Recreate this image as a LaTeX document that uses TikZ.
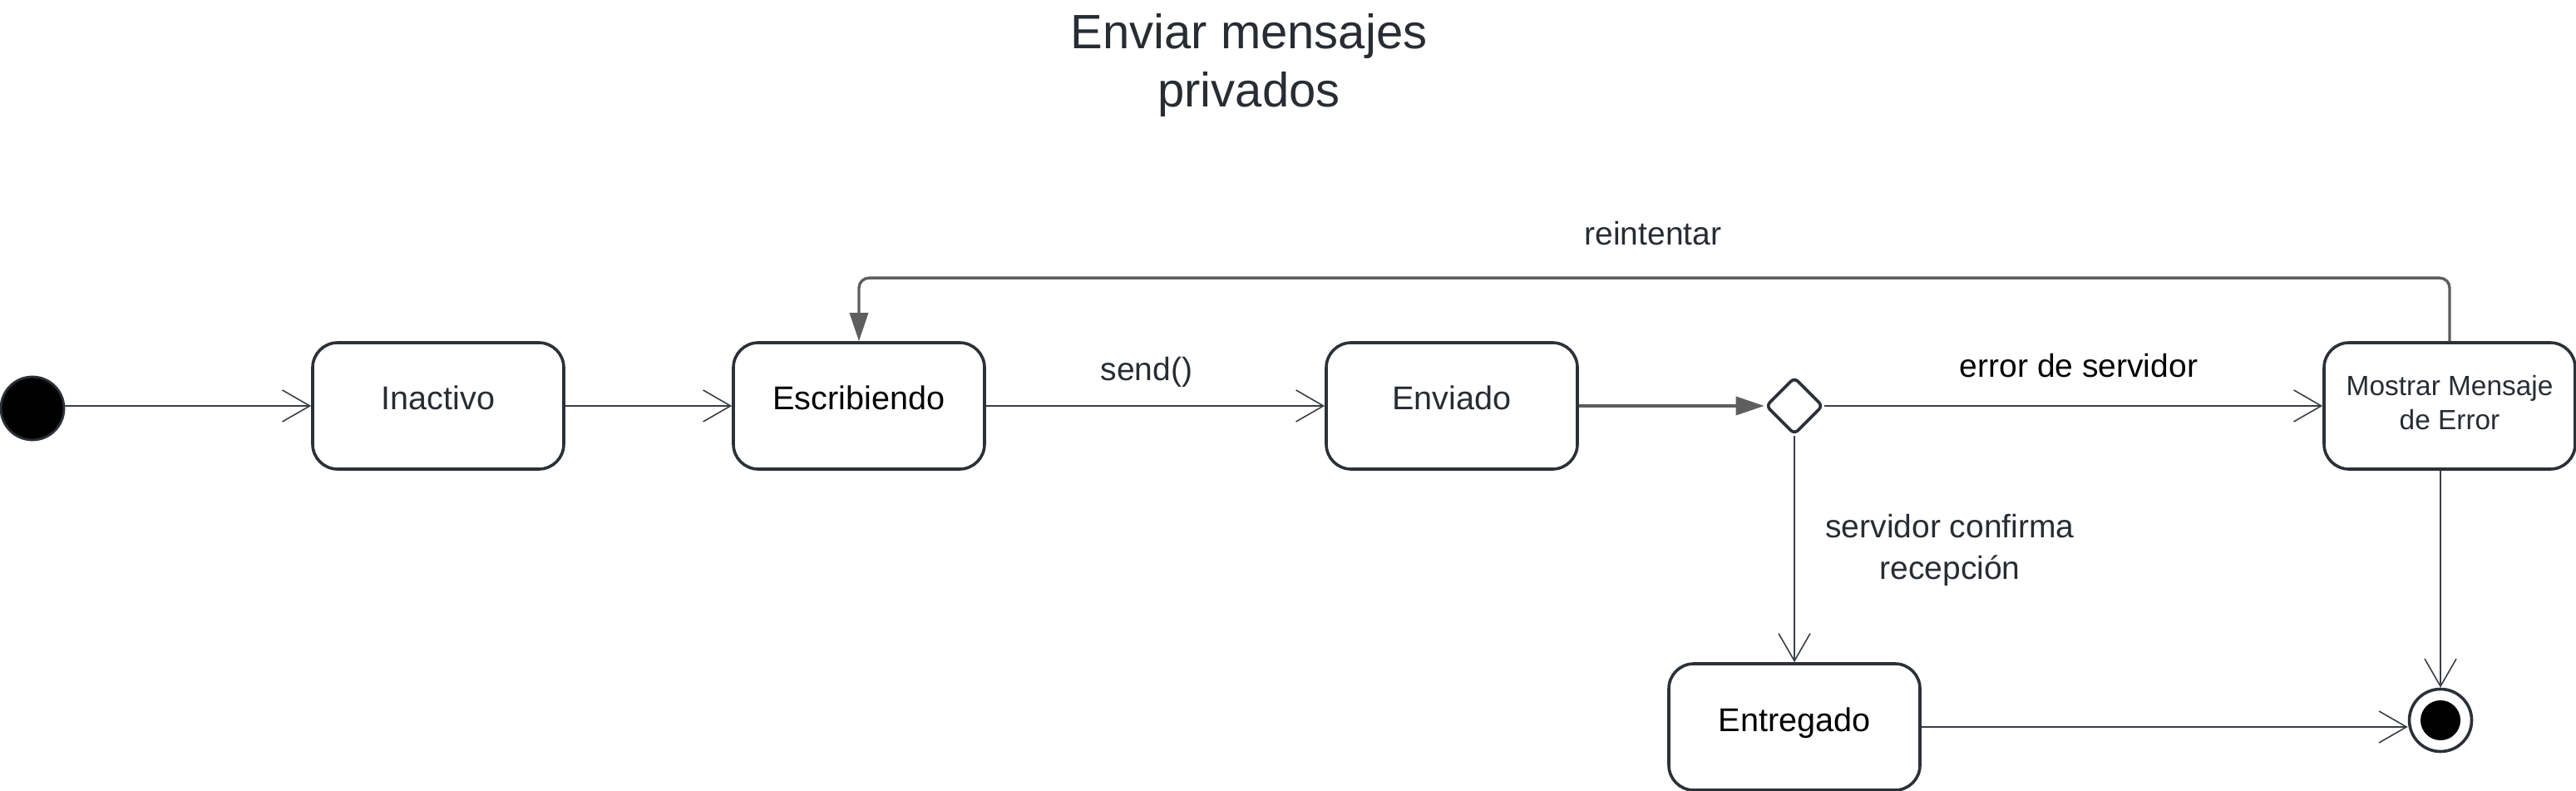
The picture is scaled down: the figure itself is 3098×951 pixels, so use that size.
\documentclass[tikz,border=0pt]{standalone}
\usepackage{fontspec}
\setmainfont{Liberation Sans}
\usetikzlibrary{arrows.meta,shapes.geometric,calc}
\definecolor{boxline}{HTML}{2C3037}
\definecolor{edgeline}{HTML}{3A3E45}
\definecolor{greyline}{HTML}{5E5E5E}
\definecolor{txt}{HTML}{282C33}
\tikzset{
  statebox/.style={draw=boxline, line width=1.8pt, rounded corners=15pt, minimum width=151pt, minimum height=76pt, inner sep=0pt, font=\fontsize{19.8}{23}\selectfont, align=center},
  onetext/.style={text height=0.75em, text depth=0.25em},
  trans/.style={draw=edgeline, line width=1pt, -{Straight Barb[length=16.5pt, width=19pt, line width=0.8pt]}},
  thick trans/.style={draw=greyline, line width=1.7pt, -{Triangle[length=17pt, width=11pt, fill=greyline]}},
  lbl/.style={text=txt, font=\fontsize{19.5}{25}\selectfont, align=center, inner sep=0pt},
}
\begin{document}
\begin{tikzpicture}[x=0.5pt, y=-0.5pt]
\useasboundingbox (0,0) rectangle (3098,951);
% title
\node[text=txt, font=\fontsize{29}{35}\selectfont, align=center, inner sep=0pt] (title) at (1502,79) {Enviar mensajes\\privados};
% states
\node[circle, fill=black, draw=boxline, line width=1.4pt, minimum size=38pt, inner sep=0pt] (init) at (39,491) {};
\node[statebox, onetext, text=txt] (inactivo) at (527,488) {Inactivo};
\node[statebox, onetext, text=black] (escribiendo) at (1033,488) {Escribiendo};
\node[statebox, onetext, text=txt] (enviado) at (1746,488) {Enviado};
\node[diamond, draw=boxline, line width=1.8pt, minimum width=34.5pt, minimum height=34.5pt, inner sep=0pt, rounded corners=3pt, fill=white] (dec) at (2158,488) {};
\node[statebox, text=txt, font=\fontsize{16.7}{20.5}\selectfont, text depth=4pt] (mostrar) at (2946,488) {Mostrar Mensaje\\de Error};
\node[statebox, onetext, text=black] (entregado) at (2158,874) {Entregado};
\node[circle, draw=boxline, line width=1.8pt, minimum size=37.5pt, inner sep=0pt, fill=white] (final) at (2935,866) {};
\node[circle, fill=black, minimum size=24pt, inner sep=0pt] (finalin) at (final.center) {};
% transitions
\draw[trans] (init.east |- inactivo.west) -- (inactivo.west);
\draw[trans] (inactivo) -- (escribiendo);
\draw[trans] (escribiendo) -- (enviado);
\draw[thick trans] (enviado) -- (dec);
\draw[trans] (dec) -- (mostrar);
\draw[trans] (dec) -- (entregado);
\draw[trans] (final.north |- mostrar.south) -- (final.north);
\draw[trans] (entregado.east) -- (entregado.east -| final.west);
\draw[thick trans, rounded corners=6pt] (mostrar.north) -- ++(0,-76) -| (escribiendo.north);
% labels
\node[lbl] (lsend) at (1379,447) {send()};
\node[lbl] (lreint) at (1988,281) {reintentar};
\node[lbl, text=black] (lerr) at (2500,440) {error de servidor};
\node[lbl] (lconf) at (2345,661) {servidor confirma\\recepción};
\end{tikzpicture}
\end{document}
